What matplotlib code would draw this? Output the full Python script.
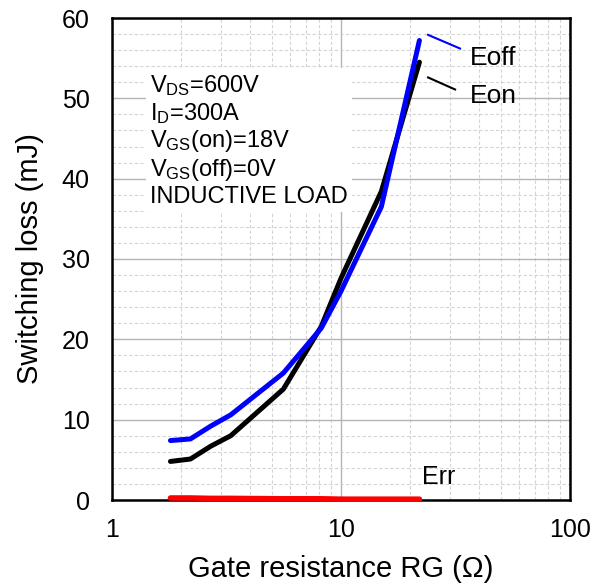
import matplotlib
matplotlib.use("Agg")
import matplotlib.pyplot as plt
from matplotlib.ticker import LogLocator, MultipleLocator, FixedLocator, NullFormatter

plt.rcParams['font.family'] = ['Liberation Sans', 'DejaVu Sans']
plt.rcParams['mathtext.fontset'] = 'custom'
plt.rcParams['mathtext.rm'] = 'Liberation Sans'
plt.rcParams['mathtext.it'] = 'Liberation Sans'

# Data
rg = [1.8, 2.2, 2.7, 3.3, 5.6, 8.2, 10, 15, 22]
eon = [4.8, 5.1, 6.7, 8.0, 13.8, 21.6, 27.6, 38.4, 54.5]
eoff = [7.4, 7.6, 9.2, 10.6, 15.8, 21.4, 26.0, 36.5, 57.2]
err = [0.25, 0.25, 0.2, 0.2, 0.15, 0.15, 0.1, 0.1, 0.1]

x_ticks = [1, 10, 100]
x_tick_labels = ['1', '10', '100']
y_ticks = [0, 10, 20, 30, 40, 50, 60]

cond_lines = [r'V$_\mathrm{DS}$=600V', r'I$_\mathrm{D}$=300A',
              r'V$_\mathrm{GS}$(on)=18V', r'V$_\mathrm{GS}$(off)=0V', 'INDUCTIVE LOAD']

fig = plt.figure(figsize=(5.97, 5.84), dpi=100)
ax = fig.add_axes([112/597, 1-500/584, 458/597, 482/584])

ax.plot(rg, eon, color='black', lw=3.6, solid_capstyle='round', zorder=3)
ax.plot(rg, eoff, color='#0000ff', lw=3.6, solid_capstyle='round', zorder=4)
ax.plot(rg, err, color='#ff0000', lw=4.0, solid_capstyle='round', zorder=5, clip_on=False)

ax.set_xscale('log')
ax.set_xlim(1, 100)
ax.set_ylim(0, 60)
ax.xaxis.set_major_locator(FixedLocator(x_ticks))
ax.set_xticklabels(x_tick_labels)
ax.xaxis.set_minor_locator(LogLocator(base=10, subs=range(2, 10)))
ax.xaxis.set_minor_formatter(NullFormatter())
ax.yaxis.set_major_locator(FixedLocator(y_ticks))
ax.yaxis.set_minor_locator(MultipleLocator(2))

ax.grid(True, which='major', color='#b4b4b4', lw=1.0, ls='-', zorder=0)
ax.grid(True, which='minor', color='#d4d4d4', lw=0.8, ls=(0, (3, 2)), zorder=0)
ax.set_axisbelow(True)

ax.tick_params(which='both', direction='in', length=0, labelsize=18)
ax.tick_params(axis='x', pad=13)
ax.tick_params(axis='y', pad=16)
for s in ax.spines.values():
    s.set_linewidth(1.8)

ax.set_xlabel('Gate resistance RG (Ω)', fontsize=21, labelpad=9)
ax.set_ylabel('Switching loss (mJ)', fontsize=21, labelpad=13)

# condition text with white background
txt = '\n'.join(cond_lines)
ax.text(0.083, 0.886, txt, transform=ax.transAxes, fontsize=17, va='top', ha='left',
        linespacing=1.15, zorder=6,
        bbox=dict(facecolor='white', edgecolor='none', pad=3))

# annotations
ax.plot([24.0, 33.1], [57.9, 56.2], color='#0000ff', lw=1.5, zorder=6)
ax.plot([24.0, 31.5], [52.6, 51.1], color='black', lw=1.5, zorder=6)
ax.text(36.6, 55.0, 'Eoff', fontsize=19, va='center', ha='left', zorder=6)
ax.text(36.6, 50.3, 'Eon', fontsize=19, va='center', ha='left', zorder=6)
ax.text(22.6, 2.9, 'Err', fontsize=18, va='center', ha='left', zorder=6)

fig.savefig('out.png', dpi=100)
